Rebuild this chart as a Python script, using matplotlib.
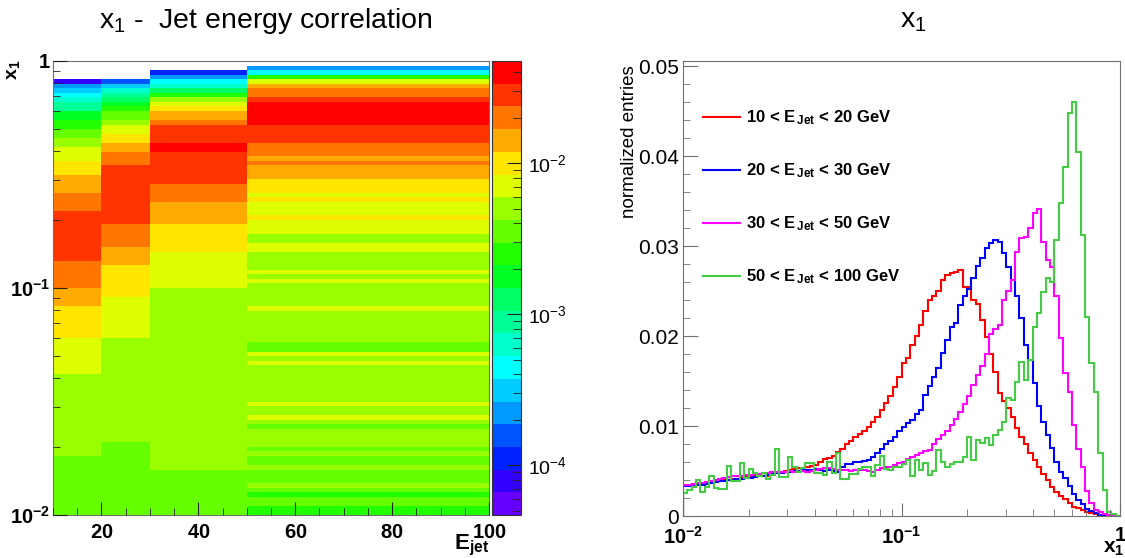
import numpy as np
import matplotlib
matplotlib.use("Agg")
import matplotlib.pyplot as plt
from matplotlib.colors import ListedColormap, LogNorm
from matplotlib.lines import Line2D
from matplotlib.ticker import (FixedLocator, LogLocator, NullFormatter,
                               FuncFormatter, MultipleLocator)

plt.rcParams['font.family'] = ['Liberation Sans', 'DejaVu Sans']
plt.rcParams['mathtext.fontset'] = 'custom'
plt.rcParams['mathtext.rm'] = 'Liberation Sans'
plt.rcParams['mathtext.bf'] = 'Liberation Sans:bold'
plt.rcParams['mathtext.it'] = 'Liberation Sans:italic'

# jet energy slices (GeV)
ejet_edges = [10, 20, 30, 50, 100]
slice_labels = [r'10 < E$\,_{\mathbf{Jet}}$ < 20 GeV',
                r'20 < E$\,_{\mathbf{Jet}}$ < 30 GeV',
                r'30 < E$\,_{\mathbf{Jet}}$ < 50 GeV',
                r'50 < E$\,_{\mathbf{Jet}}$ < 100 GeV']
slice_colors = ['#ff0000', '#0000ff', '#ff00ff', '#44cc44']

# normalized x1 distributions, 100 log bins from 0.01 to 1, in units of 1e-4
x1_e10_20 = [34, 34, 35, 35, 36, 37, 37, 38, 39, 40,
             40, 41, 41, 43, 44, 45, 46, 45, 44, 45,
             47, 48, 49, 50, 51, 52, 53, 53, 54, 56,
             57, 60, 63, 65, 67, 71, 75, 80, 83, 88,
             91, 95, 99, 104, 110, 118, 126, 133, 143, 155,
             170, 176, 190, 200, 212, 228, 240, 244, 250, 262,
             268, 270, 271, 273, 255, 254, 240, 236, 218, 199,
             180, 160, 137, 128, 120, 110, 98, 88, 80, 70,
             62, 54, 47, 40, 32, 27, 22, 19, 15, 10,
             8.5, 6.5, 4, 2.8, 2.4, 0.8, 0, 0, 0, 0]
x1_e20_30 = [33, 33, 34, 35, 35, 36, 37, 38, 39, 39,
             40, 40, 41, 41, 42, 42, 43, 44, 45, 46,
             47, 48, 48, 49, 49, 50, 50, 51, 51, 51,
             52, 51, 50, 51, 50, 49, 55, 58, 58, 60,
             60, 61, 62, 66, 70, 75, 80, 83, 88, 95,
             99, 103, 107, 113, 118, 135, 145, 155, 165, 181,
             196, 210, 214, 234, 244, 252, 265, 278, 287, 298,
             303, 307, 305, 292, 277, 262, 244, 220, 190, 173,
             148, 122, 104, 90, 76, 60, 49, 42, 33, 25,
             18, 13, 8, 5.5, 3, 1.6, 0, 0, 0, 0]
x1_e30_50 = [34, 35, 36, 37, 37, 38, 39, 40, 41, 42,
             43, 44, 44, 45, 46, 46, 47, 47, 48, 48,
             49, 49, 49, 49, 50, 49, 49, 50, 49, 50,
             51, 52, 53, 53, 52, 51, 51, 51, 50, 51,
             51, 51, 50, 49, 51, 53, 55, 55, 57, 59,
             60, 63, 66, 68, 70, 72, 73, 80, 86, 90,
             95, 101, 108, 116, 124, 133, 146, 157, 167, 180,
             202, 208, 212, 240, 250, 262, 293, 309, 310, 320,
             337, 341, 305, 285, 277, 244, 198, 159, 138, 101,
             75, 55, 28, 14, 6.5, 4.5, 2.5, 1.1, 0, 0]
x1_e50_100 = [26, 29, 32, 40, 27, 32, 44, 31, 30, 30,
              56, 39, 39, 59, 42, 52, 48, 45, 48, 41,
              46, 74, 43, 43, 66, 54, 49, 53, 59, 59,
              48, 48, 46, 60, 48, 70, 41, 41, 47, 47,
              52, 55, 55, 44, 57, 67, 52, 51, 55, 55,
              58, 62, 44, 62, 51, 59, 46, 50, 73, 60,
              55, 58, 60, 60, 66, 88, 62, 84, 81, 87,
              79, 90, 96, 104, 131, 129, 149, 171, 151, 173,
              210, 226, 249, 264, 260, 307, 348, 388, 448, 460,
              404, 312, 221, 170, 138, 70, 29, 5, 2.2, 0]

x1_edges = np.logspace(-2, 0, 101)
hists = np.array([x1_e10_20, x1_e20_30, x1_e30_50, x1_e50_100]) * 1e-4

# ROOT-like rainbow palette, 20 contour levels (bottom -> top)
palette = ['#6600ff', '#3300ff', '#0022ff', '#0055ff', '#0099ff',
           '#00ccff', '#00ffff', '#00ffcc', '#00ff99', '#00ff66',
           '#00ff22', '#22ff00', '#66ff00', '#99ff00', '#ddff00',
           '#ffe600', '#ffaa00', '#ff7700', '#ff3300', '#ff0000']

W, H = 1125, 558
fig = plt.figure(figsize=(W / 100, H / 100), dpi=100)
ax1 = fig.add_axes([53 / W, 1 - 515 / H, 436 / W, 454 / H])
cax = fig.add_axes([492 / W, 1 - 515 / H, 29 / W, 454 / H])
ax2 = fig.add_axes([683 / W, 1 - 516 / H, 437 / W, 455 / H])

frame_col = '#707070'


def pow_label(v, pos, bold=True):
    if v <= 0:
        return ''
    e = int(round(np.log10(v)))
    s = '1' if e == 0 else '10^{%d}' % e
    return (r'$\mathbf{%s}$' if bold else r'$\mathregular{%s}$') % s


# ---- left: 2D correlation ----
cmap = ListedColormap(palette)
norm = LogNorm(vmin=4.7e-5, vmax=0.0474)
C = np.ma.masked_less_equal(hists.T, 0)
mesh = ax1.pcolormesh(ejet_edges, x1_edges, C, cmap=cmap, norm=norm)
ax1.set_yscale('log')
ax1.set_xlim(10, 100)
ax1.set_ylim(0.01, 1)
ax1.set_axisbelow(False)
ax1.xaxis.set_major_locator(FixedLocator([20, 40, 60, 80, 100]))
ax1.xaxis.set_minor_locator(MultipleLocator(5))
ax1.xaxis.set_major_formatter(FuncFormatter(lambda v, p: r'$\mathbf{%d}$' % v))
ax1.yaxis.set_major_locator(FixedLocator([0.01, 0.1, 1]))
ax1.yaxis.set_minor_locator(LogLocator(subs=range(2, 10)))
ax1.yaxis.set_minor_formatter(NullFormatter())
ax1.yaxis.set_major_formatter(FuncFormatter(pow_label))
ax1.tick_params(which='both', direction='in', top=False, right=False,
                color='#222222', labelsize=14.5)
ax1.tick_params(axis='y', which='major', length=10, pad=2)
ax1.tick_params(axis='y', which='minor', length=5)
ax1.tick_params(axis='x', which='major', length=9.5, pad=6)
ax1.tick_params(axis='x', which='minor', length=5)
for s in ax1.spines.values():
    s.set_color(frame_col)

cb = fig.colorbar(mesh, cax=cax)
cb.outline.set_edgecolor('#333333')
cax.yaxis.set_ticks_position('right')
cax.yaxis.set_major_locator(FixedLocator([1e-4, 1e-3, 1e-2]))
cax.yaxis.set_minor_locator(LogLocator(subs=range(2, 10)))
cax.yaxis.set_minor_formatter(NullFormatter())
cax.yaxis.set_major_formatter(FuncFormatter(lambda v, p: pow_label(v, p, bold=False)))
cax.tick_params(which='both', direction='in', color='#222222', labelsize=14)
cax.tick_params(which='major', length=10, pad=5)
cax.tick_params(which='minor', length=5.5)

fig.text(266 / W, 1 - 21 / H, r'x$_{\mathregular{1}}$ -  Jet energy correlation',
         ha='center', va='center', fontsize=20.5)
fig.text(14 / W, 1 - 70 / H, r'x$_{\mathbf{1}}$', rotation=90, ha='center',
         va='center', fontsize=14, fontweight='bold')
fig.text(489 / W, 1 - 545 / H, r'E$_{\mathbf{jet}}$', ha='right', va='center',
         fontsize=16, fontweight='bold')

# ---- right: x1 distributions ----
for vals, col in zip(hists, slice_colors):
    ax2.stairs(vals, x1_edges, color=col, lw=1.5)
ax2.set_xscale('log')
ax2.set_xlim(0.01, 1)
ax2.set_ylim(0, 0.05056)
ax2.xaxis.set_major_locator(FixedLocator([0.01, 0.1, 1]))
ax2.xaxis.set_minor_locator(LogLocator(subs=range(2, 10)))
ax2.xaxis.set_minor_formatter(NullFormatter())
ax2.xaxis.set_major_formatter(FuncFormatter(pow_label))
ax2.yaxis.set_major_locator(MultipleLocator(0.01))
ax2.yaxis.set_minor_locator(MultipleLocator(0.002))
ax2.yaxis.set_major_formatter(FuncFormatter(lambda v, p: '0' if abs(v) < 1e-9 else '%.2f' % v))
ax2.tick_params(which='both', direction='in', top=False, right=False,
                color=frame_col)
ax2.tick_params(axis='y', which='major', length=10.5, pad=3, labelsize=15)
ax2.tick_params(axis='y', which='minor', length=5)
ax2.tick_params(axis='x', which='major', length=9.5, pad=7, labelsize=14.5)
ax2.tick_params(axis='x', which='minor', length=5)
for s in ax2.spines.values():
    s.set_color(frame_col)
ax2.set_ylabel('normalized entries', fontsize=13.5)
ax2.yaxis.set_label_coords(-0.104, 0.822)

handles = [Line2D([], [], color=c, lw=1.5) for c in slice_colors]
ax2.legend(handles, slice_labels, loc='upper left', bbox_to_anchor=(0.0458, 0.895),
           frameon=False, borderpad=0, borderaxespad=0, handlelength=2.2,
           handletextpad=0.4, labelspacing=2.05,
           prop={'weight': 'bold', 'size': 12})

fig.text(913 / W, 1 - 21 / H, r'x$_{\mathregular{1}}$', ha='center', va='center',
         fontsize=20.5)
fig.text(1124 / W, 1 - 548 / H, r'$\mathbf{x_1}$', ha='right', va='center',
         fontsize=15)

fig.savefig('out.png', dpi=100)
